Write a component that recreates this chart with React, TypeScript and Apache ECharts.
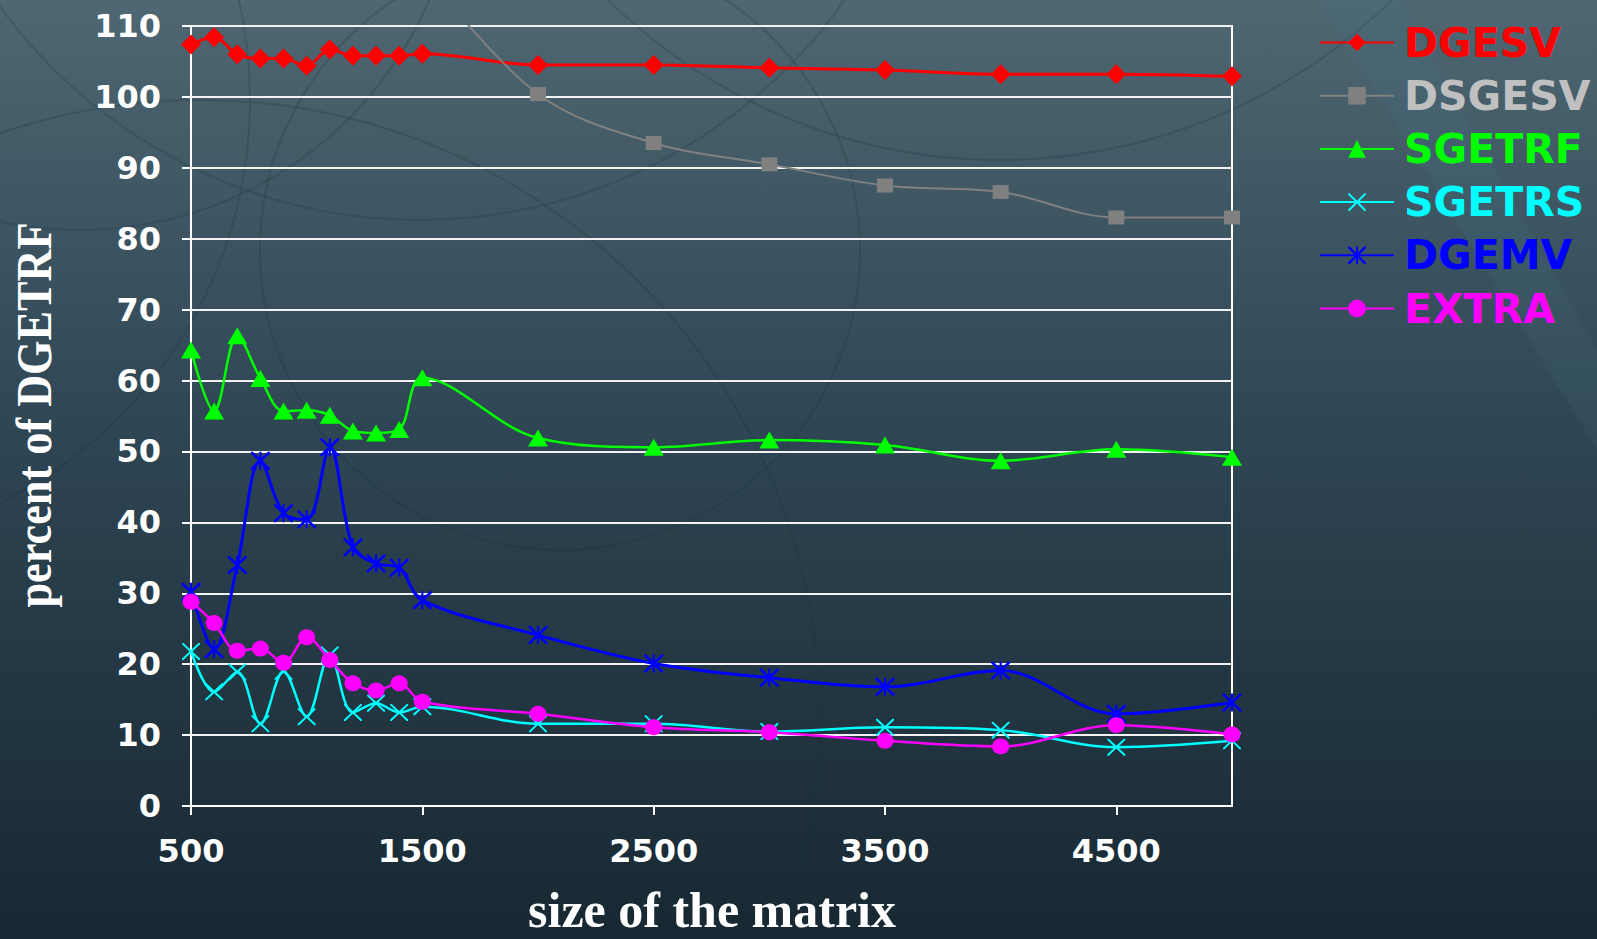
import React, { useEffect, useRef } from "react";
import * as echarts from "echarts";

// ---- data ----
const matrixSizes = [500, 600, 700, 800, 900, 1000, 1100, 1200, 1300, 1400, 1500, 2000, 2500, 3000, 3500, 4000, 4500, 5000];
const seriesNames = ["DGESV", "DSGESV", "SGETRF", "SGETRS", "DGEMV", "EXTRA"];
const dgesv = [107.4, 108.4, 106.0, 105.4, 105.4, 104.4, 106.7, 105.8, 105.8, 105.8, 106.1, 104.5, 104.5, 104.1, 103.8, 103.2, 103.2, 102.9];
const dsgesv = [null, null, null, null, null, null, null, null, null, null, 118, 100.4, 93.5, 90.5, 87.5, 86.6, 83.0, 83.0];
const sgetrf = [64.3, 55.7, 66.3, 60.3, 55.7, 55.8, 55.1, 52.9, 52.6, 53.1, 60.4, 51.9, 50.6, 51.6, 50.9, 48.7, 50.3, 49.2];
const sgetrs = [21.8, 16.1, 18.9, 11.6, 19.0, 12.6, 21.3, 13.2, 14.5, 13.2, 14.0, 11.6, 11.6, 10.5, 11.1, 10.7, 8.3, 9.2];
const dgemv = [30.2, 22.1, 34.0, 48.7, 41.3, 40.4, 50.6, 36.5, 34.2, 33.6, 29.0, 24.1, 20.1, 18.1, 16.8, 19.1, 13.0, 14.6];
const extra = [28.8, 25.8, 21.9, 22.2, 20.2, 23.8, 20.6, 17.3, 16.3, 17.3, 14.7, 13.0, 11.1, 10.4, 9.2, 8.4, 11.4, 10.1];
const yTicks = { min: 0, max: 110, step: 10 };
const xTicks = { min: 500, max: 5000, step: 1000 };

const xPath =
  "path://M0,0 L1.6,0 L10,8.4 L18.4,0 L20,0 L20,1.6 L11.6,10 L20,18.4 L20,20 L18.4,20 L10,11.6 L1.6,20 L0,20 L0,18.4 L8.4,10 L0,1.6 Z";
const starPath =
  "path://M0,0 L2,0 L10,8 L18,0 L20,0 L20,2 L12,10 L20,18 L20,20 L18,20 L10,12 L2,20 L0,20 L0,18 L8,10 L0,2 Z M8.9,0 L11.1,0 L11.1,20 L8.9,20 Z";

const styles = [
  { color: "#ff0000", legend: "#ff0000", symbol: "diamond", size: [20, 20], width: 3 },
  { color: "#808080", legend: "#c0c0c0", symbol: "rect", size: [16, 14], width: 2 },
  { color: "#00ff00", legend: "#00ff00", symbol: "triangle", size: [20, 17], width: 2.5 },
  { color: "#00ffff", legend: "#00ffff", symbol: xPath, size: [18, 17], width: 2.5 },
  { color: "#0000ff", legend: "#0000ff", symbol: starPath, size: [19, 18], width: 3 },
  { color: "#ff00ff", legend: "#ff00ff", symbol: "circle", size: [17, 16], width: 2.5 },
];

const labelFont = "'DejaVu Sans', Verdana, sans-serif";

export default function App() {
  const ref = useRef<HTMLDivElement>(null);

  useEffect(() => {
    if (!ref.current) return;
    const chart = echarts.init(ref.current, null, { renderer: "svg" });
    const allValues = [dgesv, dsgesv, sgetrf, sgetrs, dgemv, extra];

    const series = seriesNames.map((name, i) => ({
      name,
      type: "line",
      smooth: 0.35,
      clip: true,
      data: matrixSizes.map((x, k) => [x, allValues[i][k]]),
      symbol: styles[i].symbol,
      symbolSize: styles[i].size,
      showAllSymbol: true,
      lineStyle: { color: styles[i].color, width: styles[i].width },
      itemStyle: { color: styles[i].color },
      emphasis: { disabled: true },
      z: 2 + i,
    }));

    const arcStroke = "rgba(22,48,60,0.22)";
    const decor = [
      [1000, -400, 560],
      [200, 720, 620],
      [-200, 100, 450],
      [420, -300, 520],
      [80, -150, 380],
      [560, 250, 300],
    ].map(([cx, cy, r]) => ({
      type: "circle",
      silent: true,
      z: -10,
      shape: { cx, cy, r },
      style: { fill: "none", stroke: arcStroke, lineWidth: 2 },
    }));

    chart.setOption({
      animation: false,
      backgroundColor: {
        type: "linear",
        x: 0,
        y: 0,
        x2: 0,
        y2: 1,
        colorStops: [
          { offset: 0, color: "#4e6772" },
          { offset: 0.45, color: "#2f4654" },
          { offset: 1, color: "#172832" },
        ],
      },
      graphic: [
        {
          type: "polygon",
          silent: true,
          z: -9,
          shape: { points: [[1320, 0], [1400, 0], [1597, 350], [1597, 450]] },
          style: { fill: "rgba(70,120,150,0.12)" },
        },
        ...decor,
        {
          type: "text",
          z: 10,
          x: 712,
          y: 910,
          style: {
            text: "size of the matrix",
            fill: "#ffffff",
            font: "bold 50px 'Liberation Serif', 'Times New Roman', serif",
            textAlign: "center",
            textVerticalAlign: "middle",
          },
        },
        {
          type: "text",
          z: 10,
          x: 34,
          y: 415,
          rotation: Math.PI / 2,
          scaleX: 0.885,
          style: {
            text: "percent of DGETRF",
            fill: "#ffffff",
            font: "bold 50px 'Liberation Serif', 'Times New Roman', serif",
            textAlign: "center",
            textVerticalAlign: "middle",
          },
        },
      ],
      grid: {
        left: 191,
        right: 365,
        top: 26,
        bottom: 133,
        show: true,
        borderColor: "#ffffff",
        borderWidth: 2,
        backgroundColor: "transparent",
      },
      legend: {
        orient: "vertical",
        left: 1314,
        top: 17,
        itemWidth: 74,
        itemHeight: 22,
        itemGap: 12.2,
        selectedMode: false,
        textStyle: {
          fontSize: 41,
          fontWeight: "bold",
          fontFamily: labelFont,
          lineHeight: 40,
          padding: [0, 0, 0, 5],
        },
        data: seriesNames.map((name, i) => ({ name, textStyle: { color: styles[i].legend } })),
      },
      xAxis: {
        type: "value",
        min: xTicks.min,
        max: xTicks.max,
        interval: xTicks.step,
        splitLine: { show: false },
        axisLine: { show: true, lineStyle: { color: "#ffffff", width: 2 } },
        axisTick: { show: true, length: 9, lineStyle: { color: "#ffffff", width: 2 } },
        axisLabel: {
          showMaxLabel: false,
          formatter: (v: number) => String(v),
          color: "#ffffff",
          fontSize: 32,
          fontWeight: "bold",
          fontFamily: labelFont,
          margin: 29,
        },
      },
      yAxis: {
        type: "value",
        min: yTicks.min,
        max: yTicks.max,
        interval: yTicks.step,
        axisLine: { show: true, lineStyle: { color: "#ffffff", width: 2 } },
        axisTick: { show: true, length: 9, lineStyle: { color: "#ffffff", width: 2 } },
        splitLine: { show: true, lineStyle: { color: "#f2f2f2", width: 2 } },
        axisLabel: {
          color: "#ffffff",
          fontSize: 32,
          fontWeight: "bold",
          fontFamily: labelFont,
          margin: 30,
        },
      },
      series,
    });

    return () => chart.dispose();
  }, []);

  return (
    <div
      ref={ref}
      style={{ position: "absolute", left: 0, top: 0, width: "1597px", height: "939px" }}
    />
  );
}
